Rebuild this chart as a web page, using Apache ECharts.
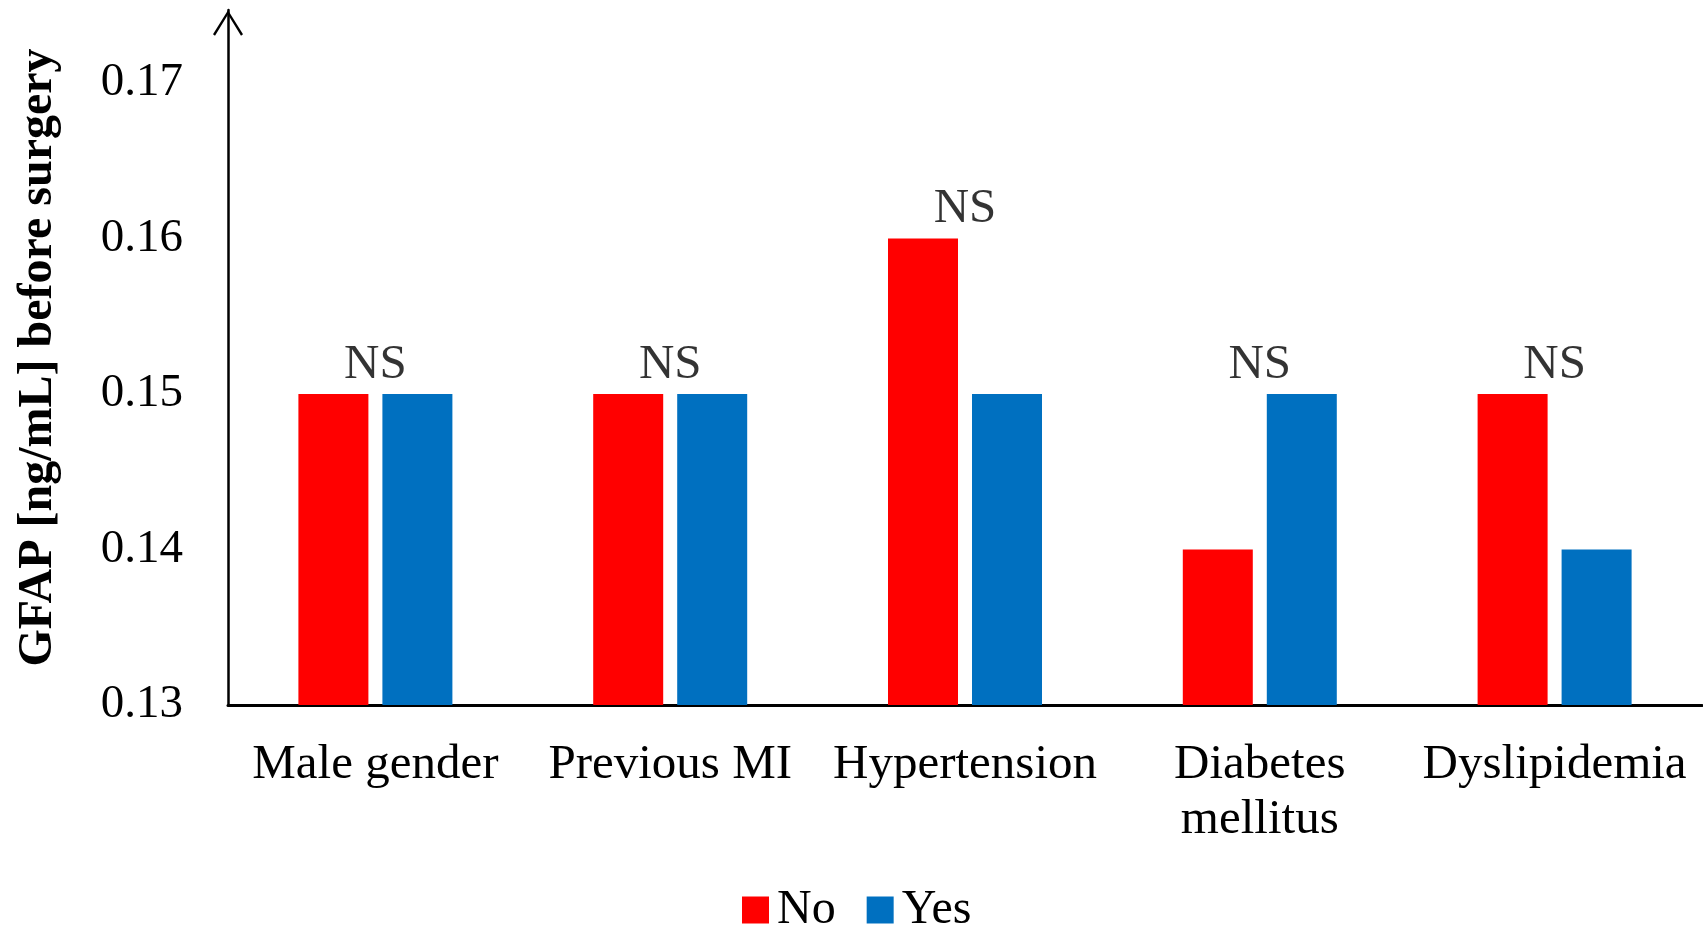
<!DOCTYPE html>
<html>
<head>
<meta charset="utf-8">
<script src="https://cdn.jsdelivr.net/npm/echarts@6/dist/echarts.min.js"></script>
<style>
html,body{margin:0;padding:0;background:#fff;}
#chart{width:1703px;height:930px;}
</style>
</head>
<body>
<div id="chart"></div>
<script>
const categories = ['Male gender', 'Previous MI', 'Hypertension', 'Diabetes\nmellitus', 'Dyslipidemia'];
const noValues = [0.15, 0.15, 0.16, 0.14, 0.15];
const yesValues = [0.15, 0.15, 0.15, 0.15, 0.14];
const sigLabels = ['NS', 'NS', 'NS', 'NS', 'NS'];
const seriesNames = ['No', 'Yes'];
const yAxisTitle = 'GFAP [ng/mL] before surgery';

const FONT = 'Liberation Serif';
const sigPoints = categories.map((c, i) => Math.max(noValues[i], yesValues[i]));

const chart = echarts.init(document.getElementById('chart'));
chart.setOption({
  animation: false,
  backgroundColor: '#ffffff',
  textStyle: { fontFamily: FONT },
  grid: { left: 228, right: 1, top: 10, bottom: 225 },
  legend: {
    data: seriesNames,
    bottom: -9,
    left: 737,
    icon: 'rect',
    itemWidth: 27,
    itemHeight: 27,
    itemGap: 31,
    textStyle: { fontFamily: FONT, fontSize: 48, color: '#000', padding: [0, 0, 0, 3] }
  },
  xAxis: {
    type: 'category',
    data: categories,
    axisLine: { lineStyle: { color: '#000', width: 3 } },
    axisTick: { show: false },
    axisLabel: { fontFamily: FONT, fontSize: 49, color: '#000', margin: 33, lineHeight: 55, interval: 0 },
    splitLine: { show: false }
  },
  yAxis: {
    type: 'value',
    min: 0.13,
    max: 0.1747,
    interval: 0.01,
    name: yAxisTitle,
    nameLocation: 'middle',
    nameGap: 165,
    nameTextStyle: { fontFamily: FONT, fontSize: 48, fontWeight: 'bold', color: '#000' },
    axisLine: {
      show: true,
      lineStyle: { color: '#000', width: 2.5 },
      symbol: ['none', 'path://M15 0 L30 24 L28 25.6 L15 4.2 L2 25.6 L0 24 Z'],
      symbolSize: [30, 26],
      symbolOffset: [0, -13]
    },
    axisTick: { show: false },
    splitLine: { show: false },
    axisLabel: {
      fontFamily: FONT, fontSize: 47, color: '#000', margin: 45,
      showMaxLabel: false,
      formatter: v => v.toFixed(2)
    }
  },
  series: [
    {
      name: seriesNames[0], type: 'bar', data: noValues,
      barWidth: 70, barGap: '20%',
      itemStyle: { color: '#FF0000' }
    },
    {
      name: seriesNames[1], type: 'bar', data: yesValues,
      barWidth: 70, barGap: '20%',
      itemStyle: { color: '#0070C0' }
    },
    {
      name: 'sig', type: 'scatter', data: sigPoints,
      symbolSize: 1,
      itemStyle: { color: 'rgba(0,0,0,0)' },
      silent: true,
      z: 5,
      label: {
        show: true, position: 'top', distance: 4,
        formatter: p => sigLabels[p.dataIndex],
        fontFamily: FONT, fontSize: 49, color: '#000'
      }
    }
  ]
});
</script>
</body>
</html>
